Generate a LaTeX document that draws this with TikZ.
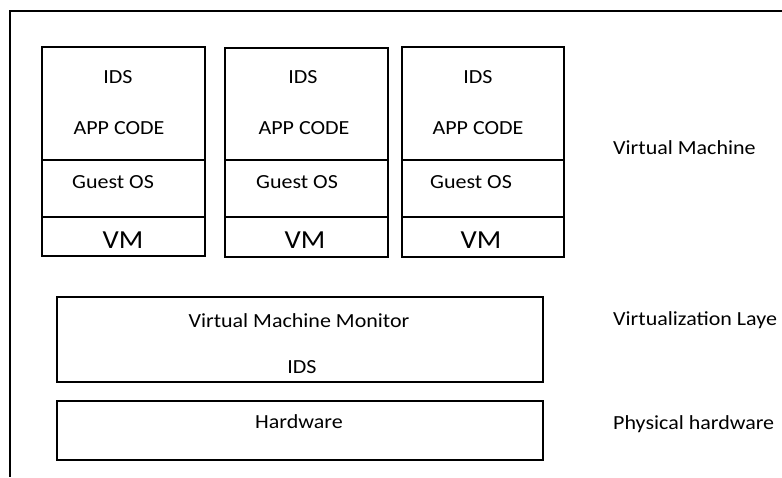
\documentclass[tikz,border=0pt]{standalone}
\usepackage{fontspec}
\setmainfont[FakeStretch=1.1]{Carlito}
\begin{document}
\begin{tikzpicture}[x=1pt,y=-1pt,
  heavybox/.style={draw, line width=2.2pt, inner sep=0pt, outer sep=0pt, anchor=north west},
  lightbox/.style={draw, line width=1.3pt, inner sep=0pt, outer sep=0pt, anchor=north west},
  layerbox/.style={draw, line width=2.4pt, inner sep=0pt, outer sep=0pt, anchor=north west},
  lbl/.style={font=\fontsize{20}{20}\selectfont, anchor=base, inner sep=0pt, text=black},
  vmlbl/.style={font=\fontsize{26}{26}\selectfont, anchor=base, inner sep=0pt, text=black},
  sidelbl/.style={font=\fontsize{20}{20}\selectfont, anchor=base west, inner sep=0pt, text=black}]
\useasboundingbox (0,0) rectangle (782,477);
\fill[white] (0,0) rectangle (782,477);
% outer frame (top and left edges)
\coordinate (ftr) at (782,11);
\coordinate (ftl) at (10,11);
\coordinate (fbl) at (10,477);
\draw[line width=1.5pt] (ftr) -- (ftl) -- (fbl);

% three virtual machine stacks: x-left, width, top, app bottom, os bottom, vm bottom,
% then label x positions for IDS, APP CODE, Guest OS, VM
\foreach \i/\xl/\w/\top/\ab/\ob/\vb/\xi/\xa/\xg/\xv in
  {1/42/163/47/160/217/256/118/119/113/123,
   2/225/163/48/160/217/257/303/304/297/305,
   3/402/162/47/160/217/257/478/478/471/481}{
  \node[lightbox, minimum width=\w pt, minimum height={(\ob-\ab)*1pt}] (os\i) at (\xl,\ab) {};
  \node[lightbox, minimum width=\w pt, minimum height={(\vb-\ob)*1pt}] (vm\i) at (\xl,\ob) {};
  \node[heavybox, minimum width=\w pt, minimum height={(\ab-\top)*1pt}] (app\i) at (\xl,\top) {};
  \node[lbl] (ids\i) at (\xi,83) {IDS};
  \node[lbl] (code\i) at (\xa,134) {APP CODE};
  \node[lbl] (guest\i) at (\xg,188) {Guest OS};
  \node[vmlbl] (vmname\i) at (\xv,248) {VM};
}

% virtualization layer and hardware
\node[layerbox, minimum width=486pt, minimum height=85pt] (vmm) at (57,297) {};
\node[lbl] (vmmtext) at (299,327) {Virtual Machine Monitor};
\node[lbl] (vmmids) at (302,373) {IDS};
\node[layerbox, minimum width=486pt, minimum height=59pt] (hw) at (57,401) {};
\node[lbl] (hwtext) at (299,428) {Hardware};

% layer names on the right
\node[sidelbl] (vmlayer) at (613,154) {Virtual Machine};
\node[sidelbl] (virtlayer) at (613,325) {Virtualization Laye};
\node[sidelbl] (phylayer) at (613,429) {Physical hardware};
\end{tikzpicture}
\end{document}
